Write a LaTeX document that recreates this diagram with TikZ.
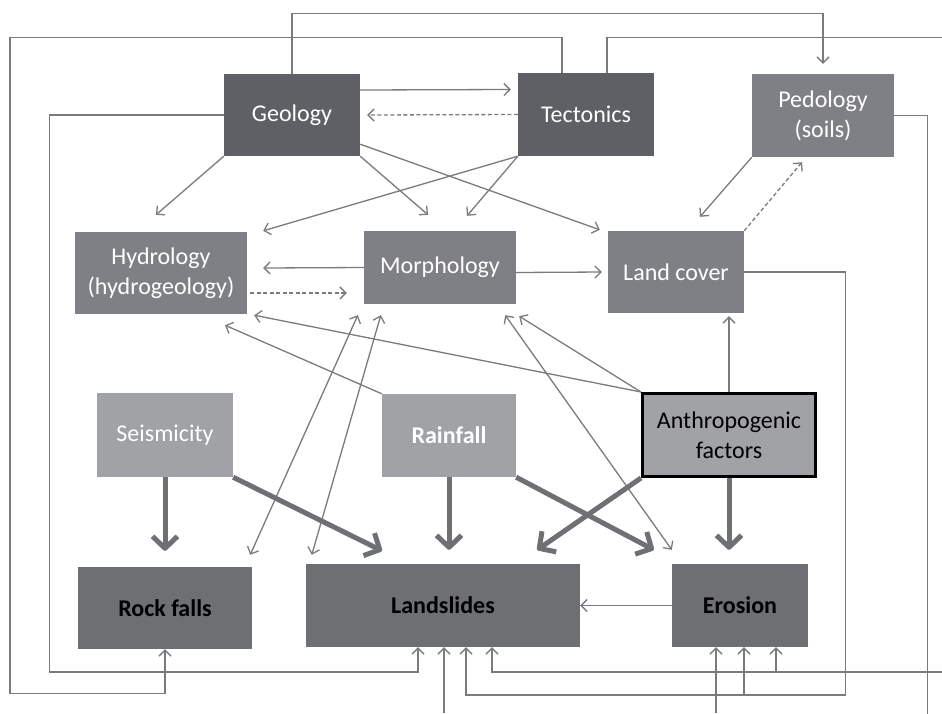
\documentclass[tikz,border=0pt]{standalone}
\usepackage{fontspec}
\setmainfont{Carlito}
\usetikzlibrary{arrows.meta,calc}
\definecolor{cdark}{HTML}{5F6065}
\definecolor{cmid}{HTML}{7F8085}
\definecolor{clight}{HTML}{A1A2A6}
\definecolor{cbot}{HTML}{6E6F73}
\definecolor{cline}{HTML}{7A7B7F}
\definecolor{cthick}{HTML}{6F7074}
\begin{document}
\begin{tikzpicture}[x=1pt,y=-1pt,
  box/.style={rectangle, inner sep=0pt, align=center, font=\fontsize{24}{30}\selectfont},
  ln/.style={draw=cline, line width=1.3pt},
  arr/.style={ln, -{Straight Barb[length=6pt,width=12pt]}},
  darr/.style={ln, {Straight Barb[length=6pt,width=12pt]}-{Straight Barb[length=6pt,width=12pt]}},
  dsh/.style={arr, dash pattern=on 4pt off 2.5pt},
  thk/.style={draw=cthick, line width=5pt, -{Straight Barb[length=12pt,width=25pt,line join=round]}}]
\useasboundingbox (0,0) rectangle (942,713);
\fill[white] (0,0) rectangle (942,713);

% nodes
\node[box, fill=cdark, text=white, minimum width=136pt, minimum height=82pt] (geo) at (292,115) {Geology};
\node[box, fill=cdark, text=white, minimum width=136pt, minimum height=83pt] (tec) at (586,114.5) {Tectonics};
\node[box, fill=cmid, text=white, minimum width=142pt, minimum height=83pt] (ped) at (823,115.5) {Pedology\\(soils)};
\node[box, fill=cmid, text=white, minimum width=172pt, minimum height=82pt] (hyd) at (161,273) {Hydrology\\(hydrogeology)};
\node[box, fill=cmid, text=white, minimum width=152pt, minimum height=73pt] (mor) at (440,267.5) {Morphology};
\node[box, fill=cmid, text=white, minimum width=136pt, minimum height=82pt] (lc) at (676,272) {Land cover};
\node[box, fill=clight, text=white, minimum width=136pt, minimum height=84pt] (sei) at (165,435) {Seismicity};
\node[box, fill=clight, text=white, minimum width=134pt, minimum height=83pt] (rain) at (449,435.5) {\textbf{Rainfall}};
\node[box, fill=clight, draw=black, line width=3pt, minimum width=173pt, minimum height=83pt] (ant) at (729,435) {Anthropogenic\\factors};
\node[box, fill=cbot, minimum width=174pt, minimum height=82pt] (rock) at (165,608) {\textbf{Rock falls}};
\node[box, fill=cbot, minimum width=274pt, minimum height=83pt] (land) at (443,605.5) {\textbf{Landslides}};
\node[box, fill=cbot, minimum width=136pt, minimum height=83pt] (ero) at (740,605.5) {\textbf{Erosion}};

% routed connectors
\draw[arr] (geo.north) -- ++(0,-60) -| ([yshift=10pt]ped.north);
\draw[arr] ([xshift=-24pt]tec.north) -- ++(0,-35) -- ++(-552,0) -- ++(0,656) -| (rock.south);
\draw[ln] ([xshift=21pt]tec.north) -- ++(0,-35) -- ++(335,0);
\coordinate (r1) at (942,672);
\draw[arr] (r1) -| ([xshift=49pt]land.south);
\coordinate (j2) at (776,672);
\draw[arr] (j2) -- (j2 |- ero.south);
\draw[arr] (geo.west) -- ++(-174,0) -- ++(0,557) -| ([xshift=-25pt]land.south);
\draw[ln] (ped.east) -- ++(33,0) -- ++(0,598);
\draw[arr] (lc.east) -- ++(101,0) -- ++(0,423) -| ([xshift=23pt]land.south);
\coordinate (j1) at (744,695);
\draw[arr] (j1) -- (j1 |- ero.south);
\coordinate (b1) at (444,713);
\draw[arr] (b1) -- (b1 |- land.south);
\coordinate (b2) at (716,713);
\draw[arr] (b2) -- (b2 |- ero.south);

% top-row connectors
\draw[arr] ([yshift=25pt]geo.east) -- ([xshift=-7pt,yshift=25pt]tec.west);
\draw[dsh] (tec.west) -- ([xshift=7pt]geo.east);
\draw[arr] (geo.south west) -- ([xshift=-5pt,yshift=17pt]hyd.north);
\draw[arr] (geo.south east) -- ([xshift=-12pt,yshift=16pt]mor.north);
\draw[arr] ([yshift=12pt]geo.south east) -- ([xshift=-8pt,yshift=1pt]lc.north west);
\draw[arr] (tec.south west) -- ([xshift=16pt,yshift=1pt]hyd.north east);
\draw[arr] (tec.south west) -- ([xshift=27pt,yshift=15pt]mor.north);
\draw[arr] (ped.south west) -- ([xshift=24pt,yshift=14pt]lc.north);
\draw[dsh] (lc.north east) -- ([xshift=-21pt,yshift=-5pt]ped.south);

% middle-row connectors
\draw[arr] (mor.west) -- ([xshift=16pt,yshift=5pt]hyd.east);
\draw[dsh] ([xshift=3pt,yshift=-20pt]hyd.east) -- ([xshift=-17pt,yshift=-25.5pt]mor.west);
\draw[arr] ([yshift=-5pt]mor.east) -- ([xshift=-6pt]lc.west);
\draw[arr, shorten >=3pt] (ant.north) -- (ant.north |- lc.south);
\draw[arr] (ant.north west) -- ([xshift=7pt,yshift=-1pt]hyd.south east);
\draw[arr] (ant.north west) -- ([xshift=3pt,yshift=-12pt]mor.south east);
\draw[arr] (rain.north west) -- ([xshift=64pt,yshift=-11pt]hyd.south);
\draw[darr] ([xshift=-2pt,yshift=12pt]rock.north east) -- ([xshift=-6pt,yshift=-11pt]mor.south west);
\draw[darr] ([xshift=6pt,yshift=9pt]land.north west) -- ([xshift=17pt,yshift=-11pt]mor.south west);
\draw[darr] ([yshift=14pt]ero.north west) -- ([xshift=-11pt,yshift=-11pt]mor.south east);
\draw[arr] (ero.west) -- (land.east);

% thick arrows
\draw[thk] (sei.south) -- ([yshift=16pt]rock.north);
\draw[thk] (sei.south east) -- ([xshift=-61pt,yshift=13pt]land.north);
\draw[thk, shorten >=14pt] (rain.south) -- (rain.south |- land.north);
\draw[thk] (rain.south east) -- ([xshift=-18pt,yshift=14pt]ero.north west);
\draw[thk] (ant.south west) -- ([xshift=-43pt,yshift=14pt]land.north east);
\draw[thk, shorten >=14pt] (ant.south) -- (ant.south |- ero.north);
\end{tikzpicture}
\end{document}
